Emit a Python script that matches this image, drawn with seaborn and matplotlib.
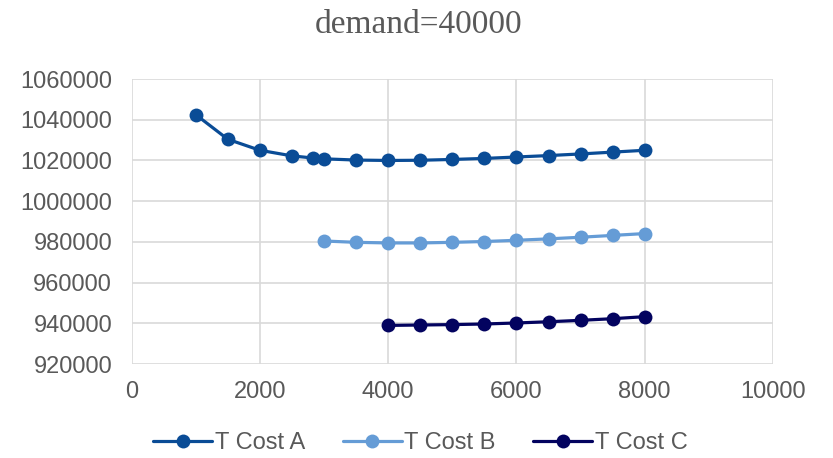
import numpy as np
import pandas as pd
import seaborn as sns
import matplotlib.pyplot as plt

# order quantities and total cost for each supplier
q_a = [1000, 1500, 2000, 2500, 2828, 3000, 3500, 4000, 4500, 5000, 5500, 6000, 6500, 7000, 7500, 8000]
cost_a = [1042500, 1030400, 1025000, 1022250, 1021200, 1020800, 1020200, 1020000, 1020100,
          1020500, 1021000, 1021700, 1022400, 1023200, 1024100, 1025000]

q_b = [3000, 3500, 4000, 4500, 5000, 5500, 6000, 6500, 7000, 7500, 8000]
cost_b = [980450, 979800, 979500, 979500, 979800, 980200, 980800, 981500, 982300, 983200, 984100]

q_c = [4000, 4500, 5000, 5500, 6000, 6500, 7000, 7500, 8000]
cost_c = [939000, 939200, 939400, 939700, 940200, 940800, 941500, 942300, 943300]

names = ['T Cost A', 'T Cost B', 'T Cost C']
colors = ['#0A4C96', '#659CD6', '#03035F']

df = pd.concat([
    pd.DataFrame({'q': q_a, 'cost': cost_a, 'series': names[0]}),
    pd.DataFrame({'q': q_b, 'cost': cost_b, 'series': names[1]}),
    pd.DataFrame({'q': q_c, 'cost': cost_c, 'series': names[2]}),
])

sns.set_style('white')
plt.rcParams['font.family'] = ['Liberation Sans', 'DejaVu Sans']

fig = plt.figure(figsize=(8.33, 4.58), dpi=100)
ax = fig.add_axes([0.158, 0.205, 0.77, 0.6225])

sns.lineplot(data=df, x='q', y='cost', hue='series', palette=dict(zip(names, colors)),
             marker='o', markersize=10, markeredgewidth=0, linewidth=2.3,
             sort=False, ax=ax)

ax.set_xlim(0, 10000)
ax.set_ylim(920000, 1060000)
ax.set_xticks(np.arange(0, 10001, 2000))
ax.set_yticks(np.arange(920000, 1060001, 20000))
ax.ticklabel_format(style='plain', useOffset=False)
ax.grid(True, color='#D9D9D9', linewidth=1.2)
ax.set_axisbelow(True)
for s in ax.spines.values():
    s.set_visible(False)
ax.tick_params(axis='both', length=0, labelsize=17, labelcolor='#595959')
ax.tick_params(axis='y', pad=14)
ax.tick_params(axis='x', pad=12)
ax.set_xlabel('')
ax.set_ylabel('')

ax.legend(loc='upper center', bbox_to_anchor=(0.45, -0.165), ncol=3, frameon=False,
          fontsize=17, labelcolor='#595959', handlelength=2.5, handletextpad=0.1,
          columnspacing=1.6)

fig.text(0.502, 0.945, 'demand=40000', ha='center', va='center', fontsize=24,
         color='#595959', family='Liberation Serif')

fig.savefig('out.png', dpi=100)
